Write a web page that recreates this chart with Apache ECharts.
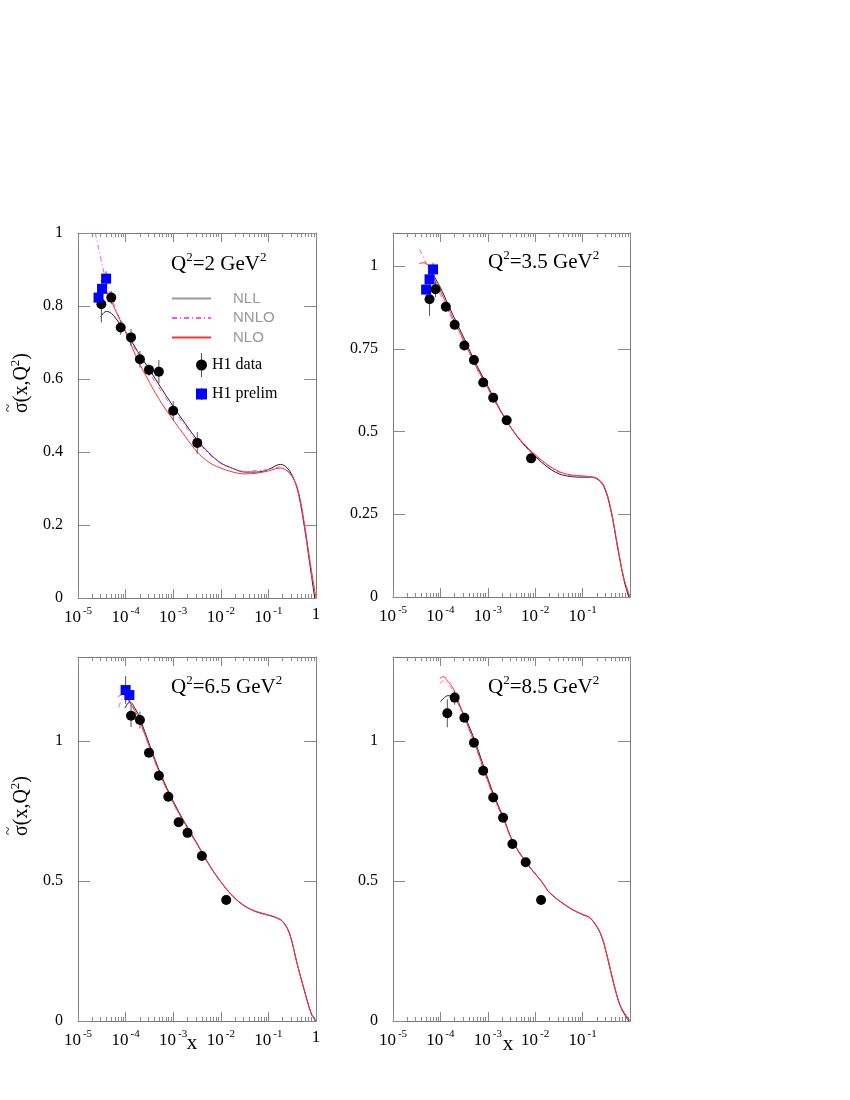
<!DOCTYPE html>
<html>
<head>
<meta charset="utf-8">
<script src="https://cdn.jsdelivr.net/npm/echarts@6/dist/echarts.min.js"></script>
<style>
  html, body { margin: 0; padding: 0; background: #fff; }
  #main { width: 850px; height: 1100px; }
</style>
</head>
<body>
<div id="main"></div>
<script>
// ---- data: [x, y] for curves, [x, y, err] for points ----
// Q2 = 2 GeV2
const nll_q2 = [[3.0e-5,0.77],[3.5e-5,0.782],[4.0e-5,0.785],[5.0e-5,0.78],[6.3e-5,0.765],[1e-4,0.73],[1.8e-4,0.675],[3.2e-4,0.625],[5.6e-4,0.575],[1e-3,0.525],[1.8e-3,0.477],[3.2e-3,0.433],[5.6e-3,0.398],[1e-2,0.37],[1.8e-2,0.355],[3.2e-2,0.345],[5.6e-2,0.345],[0.1,0.352],[0.14,0.362],[0.18,0.366],[0.25,0.356],[0.35,0.323],[0.44,0.278],[0.57,0.195],[0.72,0.104],[0.92,0.008],[0.94,0]];
const nnlo_q2 = [[2.25e-5,1.0],[2.4e-5,0.99],[3.0e-5,0.93],[4.0e-5,0.865],[6.3e-5,0.79],[1e-4,0.733],[1.8e-4,0.668],[3.2e-4,0.615],[5.6e-4,0.567],[1e-3,0.518],[1.8e-3,0.47],[3.2e-3,0.428],[5.6e-3,0.395],[1e-2,0.368],[1.8e-2,0.354],[3.2e-2,0.347],[5.6e-2,0.349],[0.1,0.352],[0.14,0.357],[0.18,0.359],[0.25,0.35],[0.35,0.322],[0.44,0.28],[0.57,0.2],[0.72,0.11],[0.9,0.03],[1,0]];
const nlo_q2 = [[3.0e-5,0.87],[4.0e-5,0.84],[6.3e-5,0.785],[1e-4,0.728],[1.8e-4,0.652],[3.2e-4,0.59],[5.6e-4,0.535],[1e-3,0.488],[1.8e-3,0.442],[3.2e-3,0.40],[5.6e-3,0.372],[1e-2,0.356],[1.8e-2,0.345],[3.2e-2,0.34],[5.6e-2,0.342],[0.1,0.348],[0.14,0.354],[0.18,0.356],[0.25,0.348],[0.35,0.322],[0.44,0.285],[0.57,0.205],[0.72,0.115],[0.9,0.035],[1,0]];
const h1_q2 = [[3.1e-5,0.805,0.05],[5.0e-5,0.823,0.018],[7.9e-5,0.741,0.02],[1.3e-4,0.714,0.023],[2.0e-4,0.654,0.023],[3.1e-4,0.625,0.016],[5.0e-4,0.62,0.032],[1.0e-3,0.513,0.027],[3.2e-3,0.425,0.03]];
const pre_q2 = [[2.7e-5,0.823,0.02],[3.2e-5,0.847,0.025],[3.9e-5,0.875,0.02]];

// Q2 = 3.5 GeV2
const nll_q35 = [[7e-5,0.975],[1e-4,0.935],[1.8e-4,0.855],[3.2e-4,0.78],[5.6e-4,0.705],[1e-3,0.637],[1.8e-3,0.567],[3.2e-3,0.508],[5.6e-3,0.462],[1e-2,0.425],[1.8e-2,0.393],[3.2e-2,0.372],[5.6e-2,0.364],[0.1,0.362],[0.14,0.362],[0.2,0.357],[0.28,0.334],[0.39,0.265],[0.54,0.154],[0.74,0.053],[0.94,0]];
const nnlo_q35 = [[3.6e-5,1.05],[4.3e-5,1.03],[5.5e-5,0.99],[7e-5,0.955],[1e-4,0.913],[1.8e-4,0.838],[3.2e-4,0.768],[5.6e-4,0.695],[1e-3,0.63],[1.8e-3,0.564],[3.2e-3,0.507],[5.6e-3,0.463],[1e-2,0.428],[1.8e-2,0.398],[3.2e-2,0.377],[5.6e-2,0.367],[0.1,0.364],[0.14,0.363],[0.2,0.358],[0.28,0.336],[0.39,0.268],[0.54,0.157],[0.74,0.056],[1,0]];
const nlo_q35 = [[3.6e-5,1.008],[4.5e-5,1.01],[5.5e-5,1.003],[7e-5,0.97],[1e-4,0.925],[1.8e-4,0.845],[3.2e-4,0.772],[5.6e-4,0.698],[1e-3,0.632],[1.8e-3,0.565],[3.2e-3,0.508],[5.6e-3,0.465],[1e-2,0.43],[1.8e-2,0.4],[3.2e-2,0.379],[5.6e-2,0.369],[0.1,0.366],[0.14,0.364],[0.2,0.359],[0.28,0.337],[0.39,0.27],[0.54,0.16],[0.74,0.058],[1,0]];
const h1_q35 = [[5.9e-5,0.90,0.05],[7.9e-5,0.930,0.024],[1.3e-4,0.877,0.015],[2.0e-4,0.823,0.015],[3.2e-4,0.760,0.012],[5.1e-4,0.716,0.012],[8.0e-4,0.648,0.012],[1.3e-3,0.602,0.012],[2.5e-3,0.534,0.012],[8.2e-3,0.419,0.012]];
const pre_q35 = [[5.0e-5,0.929,0.02],[5.9e-5,0.960,0.02],[7.0e-5,0.990,0.02]];

// Q2 = 6.5 GeV2
const nll_q65 = [[9.6e-5,1.117],[1.23e-4,1.14],[1.6e-4,1.115],[2e-4,1.081],[3.2e-4,0.985],[5.6e-4,0.878],[1e-3,0.785],[1.8e-3,0.705],[3.2e-3,0.633],[5.6e-3,0.56],[1e-2,0.497],[1.8e-2,0.445],[3.2e-2,0.41],[5.6e-2,0.39],[0.1,0.378],[0.14,0.37],[0.2,0.355],[0.28,0.31],[0.4,0.205],[0.56,0.113],[0.8,0.025],[1,0]];
const nnlo_q65 = [[7.2e-5,1.12],[8.5e-5,1.15],[1.05e-4,1.155],[1.6e-4,1.1],[2e-4,1.066],[3.2e-4,0.975],[5.6e-4,0.87],[1e-3,0.778],[1.8e-3,0.7],[3.2e-3,0.63],[5.6e-3,0.558],[1e-2,0.495],[1.8e-2,0.444],[3.2e-2,0.409],[5.6e-2,0.389],[0.1,0.377],[0.14,0.369],[0.2,0.354],[0.28,0.31],[0.4,0.205],[0.56,0.113],[0.8,0.025],[1,0]];
const nlo_q65 = [[6.9e-5,1.158],[8.9e-5,1.167],[1.1e-4,1.15],[1.6e-4,1.105],[2e-4,1.07],[3.2e-4,0.978],[5.6e-4,0.872],[1e-3,0.78],[1.8e-3,0.702],[3.2e-3,0.631],[5.6e-3,0.559],[1e-2,0.497],[1.8e-2,0.446],[3.2e-2,0.411],[5.6e-2,0.391],[0.1,0.379],[0.14,0.371],[0.2,0.356],[0.28,0.312],[0.4,0.207],[0.56,0.115],[0.8,0.027],[1,0]];
const h1_q65 = [[1.3e-4,1.090,0.04],[2.0e-4,1.075,0.03],[3.1e-4,0.958,0.015],[5.0e-4,0.876,0.015],[7.9e-4,0.801,0.015],[1.3e-3,0.710,0.015],[2.0e-3,0.672,0.015],[4.0e-3,0.589,0.012],[1.3e-2,0.432,0.012]];
const pre_q65 = [[1.0e-4,1.182,0.05],[1.2e-4,1.164,0.03]];

// Q2 = 8.5 GeV2
const nll_q85 = [[1.0e-4,1.14],[1.45e-4,1.162],[2e-4,1.153],[3.2e-4,1.09],[5.1e-4,1.01],[8e-4,0.914],[1.3e-3,0.813],[2.1e-3,0.73],[3.3e-3,0.645],[6.3e-3,0.569],[1.38e-2,0.497],[2.07e-2,0.456],[5.5e-2,0.402],[0.1,0.38],[0.146,0.367],[0.237,0.313],[0.33,0.23],[0.45,0.135],[0.63,0.051],[0.94,0]];
const nnlo_q85 = [[9.7e-5,1.205],[1.17e-4,1.215],[1.4e-4,1.205],[1.86e-4,1.18],[3.2e-4,1.08],[5.1e-4,0.997],[8e-4,0.9],[1.3e-3,0.803],[2.1e-3,0.723],[3.3e-3,0.641],[6.3e-3,0.566],[1.38e-2,0.495],[2.07e-2,0.455],[5.5e-2,0.401],[0.1,0.379],[0.146,0.366],[0.237,0.313],[0.33,0.231],[0.45,0.136],[0.63,0.052],[1,0]];
const nlo_q85 = [[9.7e-5,1.224],[1.17e-4,1.23],[1.4e-4,1.215],[1.86e-4,1.188],[3.2e-4,1.085],[5.1e-4,1.0],[8e-4,0.905],[1.3e-3,0.806],[2.1e-3,0.726],[3.3e-3,0.643],[6.3e-3,0.568],[1.38e-2,0.497],[2.07e-2,0.457],[5.5e-2,0.403],[0.1,0.381],[0.146,0.368],[0.237,0.315],[0.33,0.233],[0.45,0.138],[0.63,0.054],[1,0]];
const h1_q85 = [[1.4e-4,1.099,0.05],[2.0e-4,1.155,0.025],[3.2e-4,1.083,0.015],[5.1e-4,0.994,0.015],[8.0e-4,0.894,0.015],[1.3e-3,0.798,0.015],[2.1e-3,0.726,0.015],[3.3e-3,0.632,0.015],[6.3e-3,0.567,0.012],[1.33e-2,0.432,0.012]];
const pre_q85 = [];

// tick values
const yTicks_top_left = [0, 0.2, 0.4, 0.6, 0.8, 1];
const yTicks_top_right = [0, 0.25, 0.5, 0.75, 1];
const yTicks_bottom = [0, 0.5, 1];
const xMajor = [1e-5, 1e-4, 1e-3, 1e-2, 1e-1, 1];
const minorSteps = [2, 3, 4, 5, 6, 7, 8, 9];
const xMinor = [];
xMajor.slice(0, 5).forEach(d => minorSteps.forEach(m => xMinor.push(+(d * m).toPrecision(3))));

const serif = '"Liberation Serif", "Times New Roman", serif';
const frameColor = '#7a7a7a';
const tickColor = '#8a8a8a';

// layout of the four frames
const panels = [
  { box: {left: 78, top: 233, width: 238, height: 365}, yMax: 1, yTicks: yTicks_top_left, q: '2', showOne: true,
    nll: nll_q2, nnlo: nnlo_q2, nlo: nlo_q2, h1: h1_q2, pre: pre_q2, titlePos: [171, 251] },
  { box: {left: 393, top: 233, width: 237, height: 364}, yMax: 1.1, yTicks: yTicks_top_right, q: '3.5', showOne: false,
    nll: nll_q35, nnlo: nnlo_q35, nlo: nlo_q35, h1: h1_q35, pre: pre_q35, titlePos: [488, 249] },
  { box: {left: 78, top: 657, width: 238, height: 364}, yMax: 1.3, yTicks: yTicks_bottom, q: '6.5', showOne: true,
    nll: nll_q65, nnlo: nnlo_q65, nlo: nlo_q65, h1: h1_q65, pre: pre_q65, titlePos: [171, 674] },
  { box: {left: 393, top: 657, width: 237, height: 364}, yMax: 1.3, yTicks: yTicks_bottom, q: '8.5', showOne: false,
    nll: nll_q85, nnlo: nnlo_q85, nlo: nlo_q85, h1: h1_q85, pre: pre_q85, titlePos: [488, 674] }
];

function xLabel(showOne) {
  return function (v) {
    const e = Math.round(Math.log10(v));
    if (e === 0) return showOne ? '1' : '';
    return '{b|10}{s|' + e + '}';
  };
}

const grid = [], xAxis = [], yAxis = [], series = [], title = [];

panels.forEach((p, g) => {
  grid.push(Object.assign({}, p.box));
  const base = { type: 'log', logBase: 10, min: 1e-5, max: 1, gridIndex: g, splitLine: {show: false} };
  const majorTick = { show: true, inside: true, length: 9, customValues: xMajor, lineStyle: {color: tickColor} };
  const minorTick = { show: true, inside: true, length: 4, customValues: xMinor, lineStyle: {color: tickColor} };
  xAxis.push(Object.assign({}, base, {
    position: 'bottom',
    axisLine: {show: true, lineStyle: {color: frameColor}},
    axisTick: majorTick,
    axisLabel: {
      show: true, margin: 8, customValues: xMajor, formatter: xLabel(p.showOne),
      color: '#000', fontFamily: serif, fontSize: 17,
      rich: {
        b: {fontFamily: serif, fontSize: 17, color: '#000'},
        s: {fontFamily: serif, fontSize: 11, color: '#000', padding: [0, 0, 12, 2]}
      }
    }
  }));
  xAxis.push(Object.assign({}, base, {position: 'bottom', axisLine: {show: false}, axisTick: minorTick, axisLabel: {show: false}}));
  xAxis.push(Object.assign({}, base, {position: 'top', axisLine: {show: true, lineStyle: {color: frameColor}}, axisTick: majorTick, axisLabel: {show: false}}));
  xAxis.push(Object.assign({}, base, {position: 'top', axisLine: {show: false}, axisTick: minorTick, axisLabel: {show: false}}));

  const yBase = { type: 'value', min: 0, max: p.yMax, gridIndex: g, splitLine: {show: false},
    axisLine: {show: true, lineStyle: {color: frameColor}} };
  yAxis.push(Object.assign({}, yBase, {
    position: 'left',
    axisTick: {show: true, inside: true, length: 12, customValues: p.yTicks, lineStyle: {color: tickColor}},
    axisLabel: {show: true, margin: 15, customValues: p.yTicks, color: '#000', fontFamily: serif, fontSize: 16,
      formatter: v => String(+v.toFixed(2))}
  }));
  yAxis.push(Object.assign({}, yBase, {
    position: 'right',
    axisTick: {show: true, inside: true, length: 12, customValues: p.yTicks, lineStyle: {color: tickColor}},
    axisLabel: {show: false}
  }));

  const xi = g * 4, yi = g * 2;
  const lineBase = { type: 'line', xAxisIndex: xi, yAxisIndex: yi, symbol: 'none', smooth: 0.35, clip: true, z: 2 };
  series.push(Object.assign({}, lineBase, {name: 'NLL', data: p.nll, lineStyle: {color: '#222', width: 1}, itemStyle: {color: '#222'}}));
  series.push(Object.assign({}, lineBase, {name: 'NNLO', data: p.nnlo, lineStyle: {color: '#ff4dff', width: 1, type: [5, 3, 1, 3]}, itemStyle: {color: '#ff4dff'}}));
  series.push(Object.assign({}, lineBase, {name: 'NLO', data: p.nlo, lineStyle: {color: '#ff3030', width: 1}, itemStyle: {color: '#ff3030'}}));

  const errBars = {
    type: 'custom', xAxisIndex: xi, yAxisIndex: yi, z: 3, silent: true,
    encode: {x: 0, y: 1},
    renderItem: function (params, api) {
      const x = api.value(0), y = api.value(1), e = api.value(2);
      const lo = api.coord([x, y - e]);
      const hi = api.coord([x, y + e]);
      return {type: 'line', shape: {x1: lo[0], y1: lo[1], x2: hi[0], y2: hi[1]}, style: {stroke: '#555', lineWidth: 1}};
    }
  };
  series.push(Object.assign({}, errBars, {data: p.h1}));
  series.push(Object.assign({}, errBars, {data: p.pre}));
  series.push({name: 'H1 data', type: 'scatter', xAxisIndex: xi, yAxisIndex: yi, z: 4,
    symbol: 'circle', symbolSize: 10, itemStyle: {color: '#000', opacity: 1}, encode: {x: 0, y: 1}, data: p.h1});
  series.push({name: 'H1 prelim', type: 'scatter', xAxisIndex: xi, yAxisIndex: yi, z: 4,
    symbol: 'rect', symbolSize: 10, itemStyle: {color: '#0000ff', opacity: 1}, encode: {x: 0, y: 1}, data: p.pre});

  title.push({
    text: '{t|Q}{s|2}{t|=' + p.q + ' GeV}{s|2}',
    left: p.titlePos[0], top: p.titlePos[1], padding: 0,
    textStyle: {
      fontFamily: serif, fontSize: 21, fontWeight: 'normal', color: '#000',
      rich: {
        t: {fontFamily: serif, fontSize: 21, color: '#000'},
        s: {fontFamily: serif, fontSize: 13, color: '#000', padding: [0, 0, 13, 0]}
      }
    }
  });
});

const yName = {
  rich: {
    a: {fontFamily: serif, fontSize: 20, color: '#000'},
    s: {fontFamily: serif, fontSize: 13, color: '#000', padding: [0, 0, 12, 0]}
  }
};
const tilde = {text: '~', font: '15px ' + serif, fill: '#000', align: 'center', verticalAlign: 'middle'};

const option = {
  animation: false,
  backgroundColor: '#fff',
  title: title,
  grid: grid,
  xAxis: xAxis,
  yAxis: yAxis,
  legend: [
    {
      data: [
        {name: 'NLL', lineStyle: {color: '#9a9a9a', width: 2}},
        {name: 'NNLO'},
        {name: 'NLO'}
      ],
      itemStyle: {opacity: 0, borderWidth: 0},
      orient: 'vertical', left: 171, top: 291, padding: 0,
      itemWidth: 39, itemHeight: 14, itemGap: 4.5, selectedMode: false,
      textStyle: {color: '#999', fontFamily: '"Liberation Sans", Arial, sans-serif', fontSize: 15, padding: [0, 0, 0, 17]}
    },
    {
      data: ['H1 data', 'H1 prelim'],
      orient: 'vertical', left: 196, top: 357, padding: 0,
      itemWidth: 11, itemHeight: 11, itemGap: 13, selectedMode: false,
      textStyle: {color: '#000', fontFamily: serif, fontSize: 16}
    }
  ],
  graphic: [
    {type: 'text', x: 22, y: 383, rotation: Math.PI / 2,
      style: Object.assign({text: '{a|σ(x,Q}{s|2}{a|)}', align: 'center', verticalAlign: 'middle'}, yName)},
    {type: 'text', x: 9, y: 408, rotation: Math.PI / 2, style: tilde},
    {type: 'text', x: 22, y: 806, rotation: Math.PI / 2,
      style: Object.assign({text: '{a|σ(x,Q}{s|2}{a|)}', align: 'center', verticalAlign: 'middle'}, yName)},
    {type: 'text', x: 9, y: 831, rotation: Math.PI / 2, style: tilde},
    {type: 'line', shape: {x1: 201.5, y1: 353, x2: 201.5, y2: 377}, style: {stroke: '#555', lineWidth: 1}},
    {type: 'line', shape: {x1: 201.5, y1: 388, x2: 201.5, y2: 400}, style: {stroke: '#555', lineWidth: 1}},
    {type: 'text', x: 192, y: 1043,
      style: {text: 'x', font: '21px ' + serif, fill: '#000', align: 'center', verticalAlign: 'middle'}},
    {type: 'text', x: 508, y: 1044,
      style: {text: 'x', font: '21px ' + serif, fill: '#000', align: 'center', verticalAlign: 'middle'}}
  ],
  series: series
};

const chart = echarts.init(document.getElementById('main'), null, {renderer: 'canvas'});
chart.setOption(option);
</script>
</body>
</html>
